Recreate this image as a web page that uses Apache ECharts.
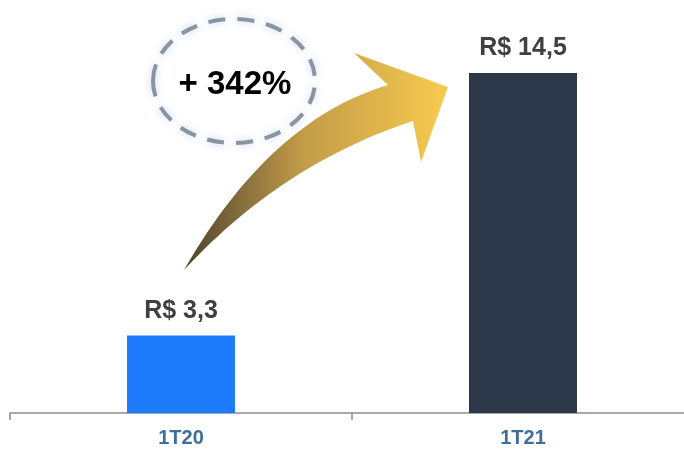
<!DOCTYPE html>
<html>
<head>
    <meta charset="utf-8">
    <title>1T20 x 1T21</title>
    <style>html,body{margin:0;padding:0;background:#fff;}</style>
</head>
<body>
    <div id="main" style="width: 684px;height:453px;"></div>
    <script src="https://cdn.jsdelivr.net/npm/echarts@6/dist/echarts.min.js"></script>
    <script type="text/javascript">
        var periods = ['1T20', '1T21'];
        var values = [3.3, 14.5];
        var barColors = ['#1e7bfc', '#2c3849'];
        var growthLabel = '+ 342%';

        var myChart = echarts.init(document.getElementById('main'));

        // pontos de uma curva quadratica, para desenhar a seta como poligono
        function quad(p0, c, p1, n) {
            var pts = [];
            for (var i = 0; i <= n; i++) {
                var t = i / n, u = 1 - t;
                pts.push([u * u * p0[0] + 2 * u * t * c[0] + t * t * p1[0],
                          u * u * p0[1] + 2 * u * t * c[1] + t * t * p1[1]]);
            }
            return pts;
        }
        var tail = [184, 270];
        var arrowPts = quad(tail, [270, 120], [388, 85], 30)
            .concat([[354, 53], [448, 87], [421, 162]])
            .concat(quad([413, 121], [282, 164], tail, 30));

        var option = {
            animation: false,
            grid: {left: 10, top: 73, width: 684, bottom: 40, outerBoundsMode: 'none', containLabel: false},
            xAxis: {
                type: 'category',
                data: periods,
                axisLine: {lineStyle: {color: '#8c8c8c', width: 1.5}},
                axisTick: {show: true, length: 7, lineStyle: {color: '#8c8c8c', width: 1.5}},
                axisLabel: {
                    color: '#3f6d9b',
                    fontSize: 20,
                    fontWeight: 'bold',
                    fontFamily: 'Arial',
                    margin: 15
                }
            },
            yAxis: {
                type: 'value',
                min: 0,
                max: 14.5,
                show: false
            },
            series: [{
                type: 'bar',
                barWidth: 108,
                data: values.map(function (v, i) {
                    return {value: v, itemStyle: {color: barColors[i]}};
                }),
                label: {
                    show: true,
                    position: 'top',
                    distance: 12,
                    color: '#404040',
                    fontSize: 25,
                    fontWeight: 'bold',
                    fontFamily: 'Arial',
                    formatter: function (p) {
                        return 'R$ ' + String(p.value).replace('.', ',');
                    }
                }
            }],
            graphic: [
                {
                    type: 'polygon',
                    shape: {points: arrowPts},
                    style: {
                        fill: {
                            type: 'linear', x: 0, y: 0, x2: 1, y2: 0,
                            colorStops: [
                                {offset: 0, color: '#4e4230'},
                                {offset: 0.45, color: '#c29c48'},
                                {offset: 1, color: '#f8cb4f'}
                            ]
                        }
                    },
                    z: 10
                },
                {
                    type: 'ellipse',
                    shape: {cx: 234, cy: 81, rx: 81, ry: 62},
                    style: {
                        fill: 'none',
                        stroke: '#8a94a1',
                        lineWidth: 4,
                        lineDash: [17, 12],
                        shadowBlur: 8,
                        shadowColor: 'rgba(110,150,220,0.45)'
                    },
                    z: 11
                },
                {
                    type: 'text',
                    x: 235,
                    y: 85,
                    style: {
                        text: growthLabel,
                        fill: '#000',
                        font: 'bold 33px Arial',
                        align: 'center',
                        verticalAlign: 'middle'
                    },
                    z: 12
                }
            ]
        };
        myChart.setOption(option);
    </script>
</body>
</html>
